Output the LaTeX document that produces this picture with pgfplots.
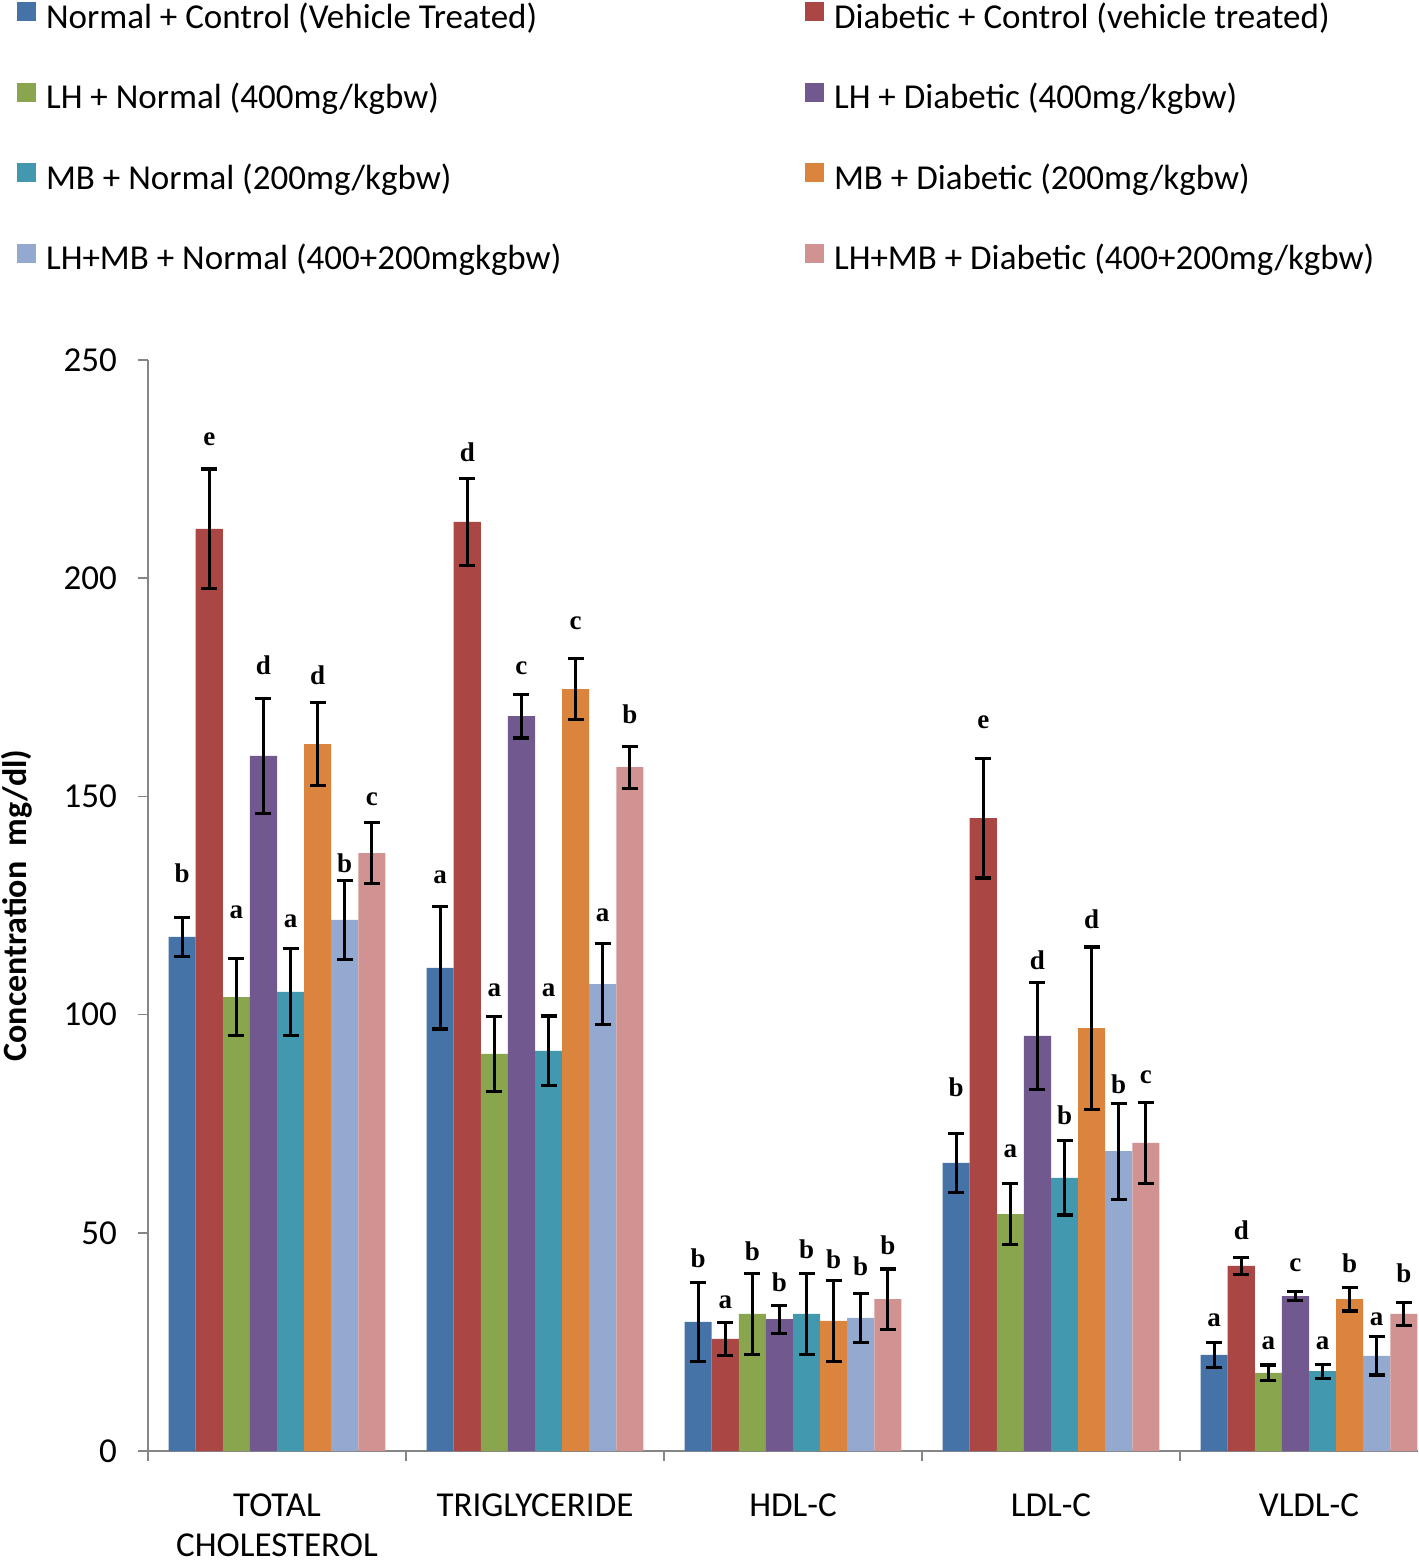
\documentclass[border=0pt]{standalone}
\usepackage{pgfplots}
\pgfplotsset{compat=1.18}
\usepackage{pgfplotstable}
\usepackage{fontspec}
\setmainfont{Carlito}
\newfontfamily\letterfont{Liberation Serif}

\definecolor{cA}{HTML}{4572A7}
\definecolor{cB}{HTML}{AA4643}
\definecolor{cC}{HTML}{89A54E}
\definecolor{cD}{HTML}{71588F}
\definecolor{cE}{HTML}{4198AF}
\definecolor{cF}{HTML}{DB843D}
\definecolor{cG}{HTML}{93A9CF}
\definecolor{cH}{HTML}{D19392}
\definecolor{axisgray}{HTML}{868686}

% columns: x, mean, error, label centre height, letter
\pgfplotstableread{
x y err ly lab
0 117.8 4.5 132.4 b
1 110.7 14.0 132.2 a
2 29.6 9.0 44.0 b
3 66.0 6.8 83.4 b
4 22.0 2.8 30.7 a
}\sA
\pgfplotstableread{
x y err ly lab
0 211.3 13.7 232.4 e
1 212.9 10.0 228.7 d
2 25.7 3.8 34.8 a
3 145.0 13.7 167.7 e
4 42.4 2.0 50.6 d
}\sB
\pgfplotstableread{
x y err ly lab
0 104.0 8.8 124.0 a
1 91.0 8.6 106.1 a
2 31.4 9.2 45.8 b
3 54.3 7.0 69.4 a
4 17.9 1.8 25.4 a
}\sC
\pgfplotstableread{
x y err ly lab
0 159.3 13.2 180.1 d
1 168.4 5.0 179.9 c
2 30.2 3.2 38.5 b
3 95.1 12.3 112.5 d
4 35.5 1.0 43.3 c
}\sD
\pgfplotstableread{
x y err ly lab
0 105.2 10.0 122.1 a
1 91.7 8.0 106.1 a
2 31.4 9.3 46.1 b
3 62.6 8.5 76.8 b
4 18.3 1.6 25.4 a
}\sE
\pgfplotstableread{
x y err ly lab
0 162.0 9.5 177.8 d
1 174.6 7.0 190.2 c
2 29.8 9.2 43.8 b
3 96.9 18.6 121.9 d
4 34.8 2.7 42.9 b
}\sF
\pgfplotstableread{
x y err ly lab
0 121.7 9.0 134.7 b
1 107.0 9.3 123.3 a
2 30.5 5.6 42.2 b
3 68.7 11.0 83.9 b
4 21.8 4.4 30.9 a
}\sG
\pgfplotstableread{
x y err ly lab
0 137.0 7.0 149.9 c
1 156.7 4.8 168.7 b
2 34.8 6.9 47.2 b
3 70.6 9.3 86.2 c
4 31.4 2.7 40.6 b
}\sH

\begin{document}
\begin{tikzpicture}
\begin{axis}[
  scale only axis,
  width=635pt, height=545.5pt,
  xmin=-0.5, xmax=4.4225, ymin=0, ymax=250,
  ytick={0,50,...,250},
  axis x line*=bottom, axis y line*=left,
  axis line style={draw=axisgray, line width=0.8pt},
  tick align=outside, major tick length=5pt,
  tick style={draw=axisgray, line width=0.8pt},
  xtick={-0.5,0.5,1.5,2.5,3.5}, xticklabels={},
  extra x ticks={0,1,2,3,4},
  extra x tick labels={{TOTAL\\CHOLESTEROL},TRIGLYCERIDE,HDL-C,LDL-C,VLDL-C},
  extra x tick style={major tick length=0pt,
     tick label style={align=center, inner sep=0pt, yshift=-21.3pt}},
  tick label style={font=\fontsize{17.5}{20}\selectfont},
  yticklabel style={xshift=-7pt},
  /pgf/number format/assume math mode=true,
  ylabel={\bfseries Concentration\ \ mg/dl)},
  ylabel style={font=\fontsize{17}{20}\selectfont, at={(axis description cs:-0.1031,0.5)}, anchor=center},
  ybar=0pt, bar width=0.105,
  every axis plot/.append style={draw=none},
  error bars/y dir=both, error bars/y explicit,
  error bars/error bar style={black, line width=1.6pt},
  error bars/error mark options={rotate=90, mark size=4pt, line width=1.6pt, black},
  nodes near coords,
  point meta=explicit symbolic,
  visualization depends on={(\thisrow{ly}-\thisrow{y})*2.182-4.5 \as \dy},
  nodes near coords style={font=\letterfont\bfseries\fontsize{13.5}{13.5}\selectfont, anchor=base, yshift=\dy pt, black},
  legend columns=2,
  legend cell align=left,
  legend image code/.code={\fill[#1] (0pt,0pt) rectangle (9.5pt,9.5pt);},
  legend style={draw=none, fill=none, inner sep=0pt, outer sep=0pt,
     at={(axis description cs:-0.1031,1.3281)}, anchor=north west,
     font=\fontsize{17.5}{20}\selectfont,
     column sep=5pt, row sep=22.3pt,
     nodes={inner sep=0pt, text height=12pt, text depth=5pt}},
]
\addplot[fill=cA] table[x=x, y=y, y error=err, meta=lab] {\sA};
\addlegendentry{\makebox[374.5pt][l]{Normal + Control (Vehicle Treated)}}
\addplot[fill=cB] table[x=x, y=y, y error=err, meta=lab] {\sB};
\addlegendentry{Diabetic + Control (vehicle treated)}
\addplot[fill=cC] table[x=x, y=y, y error=err, meta=lab] {\sC};
\addlegendentry{\makebox[374.5pt][l]{LH + Normal (400mg/kgbw)}}
\addplot[fill=cD] table[x=x, y=y, y error=err, meta=lab] {\sD};
\addlegendentry{LH + Diabetic (400mg/kgbw)}
\addplot[fill=cE] table[x=x, y=y, y error=err, meta=lab] {\sE};
\addlegendentry{\makebox[374.5pt][l]{MB + Normal (200mg/kgbw)}}
\addplot[fill=cF] table[x=x, y=y, y error=err, meta=lab] {\sF};
\addlegendentry{MB + Diabetic (200mg/kgbw)}
\addplot[fill=cG] table[x=x, y=y, y error=err, meta=lab] {\sG};
\addlegendentry{\makebox[374.5pt][l]{LH+MB + Normal (400+200mgkgbw)}}
\addplot[fill=cH] table[x=x, y=y, y error=err, meta=lab] {\sH};
\addlegendentry{LH+MB + Diabetic (400+200mg/kgbw)}
\coordinate (bl) at (rel axis cs:0,0);
\coordinate (tr) at (rel axis cs:1,1);
\end{axis}
\pgfresetboundingbox
\path[use as bounding box] ([shift={(-74pt,-55pt)}]bl) rectangle ([shift={(0pt,180pt)}]tr);
\end{tikzpicture}
\end{document}
